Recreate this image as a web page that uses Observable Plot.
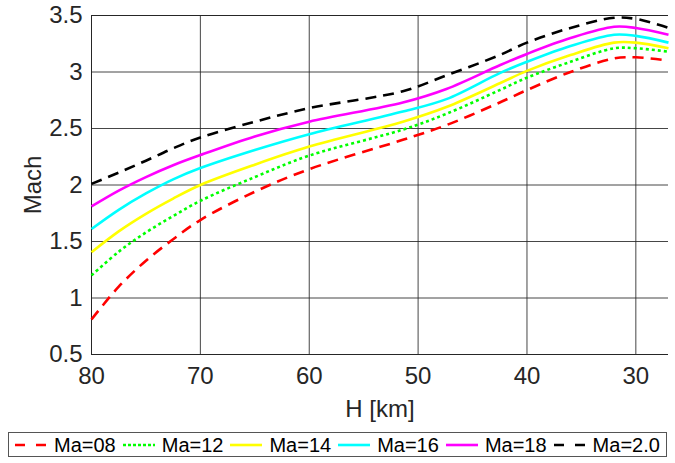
<!DOCTYPE html>
<html>
<head>
<meta charset="utf-8">
<script src="https://cdn.jsdelivr.net/npm/d3@7"></script>
<script src="https://cdn.jsdelivr.net/npm/@observablehq/plot@0.6"></script>
<style>
  html, body { margin: 0; padding: 0; background: #fff; }
  body { width: 675px; height: 463px; overflow: hidden; font-family: "Liberation Sans", Arial, sans-serif; }
  #legend {
    position: absolute; left: 8px; top: 432px; width: 659px; height: 25px;
    border: 1px solid #555; box-sizing: border-box;
    display: flex; align-items: center; font-size: 20px; color: #000;
  }
  .item { display: flex; align-items: center; }
  .item svg { display: block; }
  .item span { margin-left: 5px; margin-right: 5px; line-height: 1; }
</style>
</head>
<body>
<div id="chart"></div>
<div id="legend"></div>
<script>
// Altitude grid (km)
const H = [80, 77.5, 75, 72.5, 70, 65, 60, 51.4, 47.4, 42.5, 40, 36, 32, 30, 27];
// Mach number series
const ma08 = [0.81, 1.10, 1.33, 1.52, 1.69, 1.94, 2.14, 2.40, 2.53, 2.73, 2.84, 3.00, 3.12, 3.13, 3.10];
const ma12 = [1.20, 1.41, 1.58, 1.725, 1.86, 2.07, 2.26, 2.49, 2.63, 2.84, 2.95, 3.09, 3.21, 3.21, 3.18];
const ma14 = [1.405, 1.59, 1.745, 1.88, 2.00, 2.18, 2.34, 2.56, 2.69, 2.90, 3.01, 3.15, 3.26, 3.26, 3.21];
const ma16 = [1.61, 1.78, 1.925, 2.05, 2.15, 2.31, 2.45, 2.65, 2.76, 2.99, 3.09, 3.23, 3.33, 3.32, 3.26];
const ma18 = [1.81, 1.95, 2.07, 2.175, 2.265, 2.43, 2.56, 2.73, 2.85, 3.06, 3.16, 3.30, 3.40, 3.39, 3.33];
const ma20 = [2.01, 2.11, 2.215, 2.325, 2.42, 2.56, 2.68, 2.83, 2.97, 3.15, 3.26, 3.39, 3.48, 3.47, 3.39];

const seriesNames = ["Ma=08", "Ma=12", "Ma=14", "Ma=16", "Ma=18", "Ma=2.0"];
const seriesValues = [ma08, ma12, ma14, ma16, ma18, ma20];
const seriesColors = ["#ff0000", "#00ff00", "#ffff00", "#00ffff", "#ff00ff", "#000000"];
const seriesDash = ["11,7", "3,3", null, null, null, "11,7"];

const xTicks = [80, 70, 60, 50, 40, 30];
const yTicks = [0.5, 1, 1.5, 2, 2.5, 3, 3.5];

const rows = seriesNames.map((name, i) => H.map((h, j) => ({ name, H: h, M: seriesValues[i][j] })));

const lineMarks = rows.map((data, i) => Plot.line(data, {
  x: "H", y: "M",
  stroke: seriesColors[i],
  strokeWidth: 2.6,
  strokeDasharray: seriesDash[i] || undefined,
  strokeLinecap: "butt",
  curve: "catmull-rom"
}));

const chart = Plot.plot({
  width: 675,
  height: 425,
  marginLeft: 91,
  marginRight: 7,
  marginTop: 15,
  marginBottom: 71,
  style: { fontFamily: "'Liberation Sans', Arial, sans-serif", background: "#fff", color: "#262626" },
  x: { domain: [80, 27] },
  y: { domain: [0.5, 3.5] },
  marks: [
    Plot.gridX(xTicks, { stroke: "#262626", strokeOpacity: 0.85 }),
    Plot.ruleX([80], { stroke: "#262626" }),
    Plot.gridY(yTicks, { stroke: "#262626", strokeOpacity: 0.85 }),
    Plot.ruleY([0.5, 3.5], { stroke: "#262626" }),
    ...lineMarks,
    Plot.axisX(xTicks, {
      tickSize: 0, tickPadding: 12, fontSize: 22, fill: "#262626",
      label: "H [km]", labelAnchor: "center", labelOffset: 62, labelArrow: "none"
    }),
    Plot.axisY(yTicks, {
      tickSize: 0, tickPadding: 9, fontSize: 22, fill: "#262626",
      tickFormat: d => String(d),
      label: "Mach", labelAnchor: "center", labelOffset: 68, labelArrow: "none"
    })
  ]
});
document.getElementById("chart").appendChild(chart);

// Axis titles slightly larger than tick labels
d3.select(chart).selectAll("[aria-label$='label'] text, [aria-label$='label']").attr("font-size", 24);

// Legend
const legend = d3.select("#legend");
seriesNames.forEach((name, i) => {
  const item = legend.append("div").attr("class", "item");
  const s = item.append("svg").attr("width", 36).attr("height", 12);
  if (i === 0) s.style("margin-left", "4px");
  s.append("line").attr("x1", 2).attr("x2", 34).attr("y1", 6).attr("y2", 6)
    .attr("stroke", seriesColors[i]).attr("stroke-width", 2.6)
    .attr("stroke-dasharray", seriesDash[i] ? (seriesDash[i] === "3,3" ? "3,2" : "10,11") : null);
  item.append("span").text(name);
});
</script>
</body>
</html>
